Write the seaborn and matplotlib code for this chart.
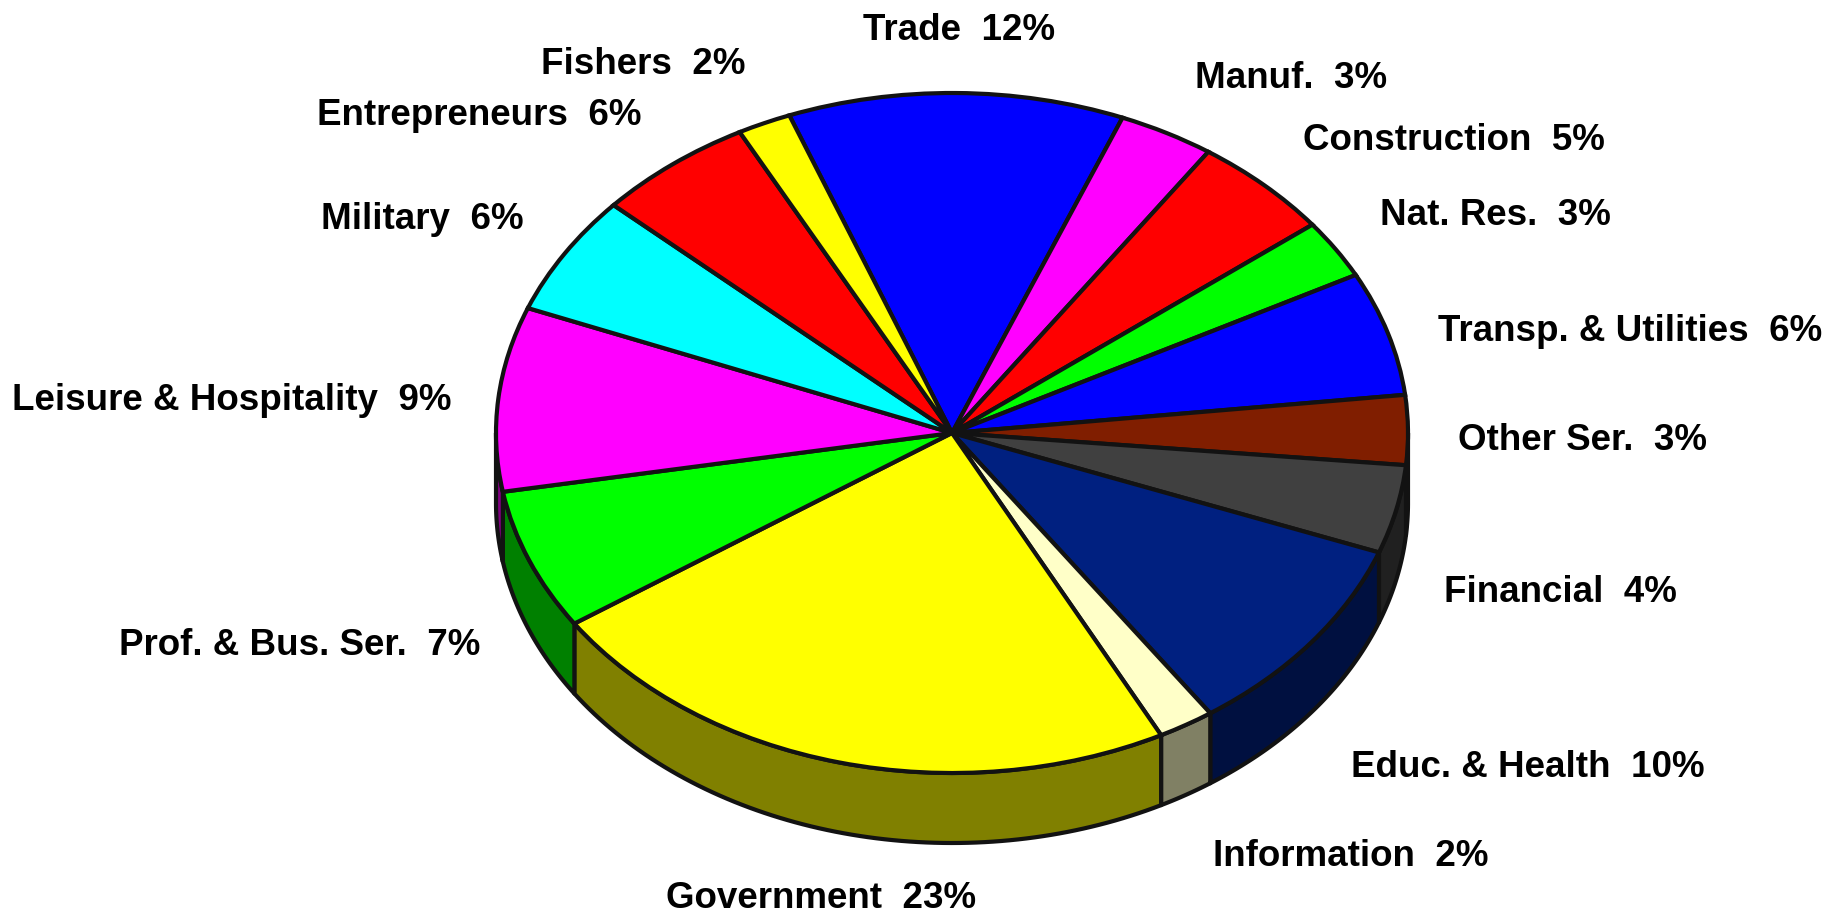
import numpy as np
import matplotlib
matplotlib.use("Agg")
import matplotlib.pyplot as plt
import seaborn as sns
from matplotlib.patches import Polygon
from matplotlib.colors import to_rgb

sns.set_style("white")
plt.rcParams['font.family'] = ['Liberation Sans', 'DejaVu Sans']

# ---- data (clockwise from the top) ----
categories = ["Trade", "Manuf.", "Construction", "Nat. Res.", "Transp. & Utilities",
              "Other Ser.", "Financial", "Educ. & Health", "Information", "Government",
              "Prof. & Bus. Ser.", "Leisure & Hospitality", "Military", "Entrepreneurs",
              "Fishers"]
shares = [11.9, 3.4, 5.0, 2.8, 5.9, 3.3, 4.2, 9.7, 2.0, 23.1, 6.7, 8.75, 5.7, 5.6, 1.9]
shown_pct = [12, 3, 5, 3, 6, 3, 4, 10, 2, 23, 7, 9, 6, 6, 2]
colors = ["#0000FF", "#FF00FF", "#FF0000", "#00FF00", "#0000FF",
          "#801E00", "#404040", "#002080", "#FFFFC8", "#FFFF00",
          "#00FF00", "#FF00FF", "#00FFFF", "#FF0000", "#FFFF00"]

# ---- layout ----
W, H = 1848, 914
CX, CY, RX, RY = 952, 433, 456, 340
DEPTH = 70 / RY
EDGE = "#121212"
LW = 3.0
START = 110.9
# label centres (pixels, cap-centre)
label_pos = [(959, 27), (1291, 75), (1454, 137), (1495, 212), (1630, 328),
             (1582, 437), (1560, 589), (1528, 764), (1351, 853), (821, 895),
             (300, 642), (232, 397), (422, 216), (479, 112), (643, 61)]

fig = plt.figure(figsize=(W / 100, H / 100), dpi=100)
ax = fig.add_axes([0, 0, 1, 1])

wedges, _ = ax.pie(shares, colors=colors, startangle=START, counterclock=False,
                   wedgeprops=dict(edgecolor=EDGE, linewidth=LW, zorder=3))
ax.set_aspect('auto')
ax.set_xlim(-CX / RX, (W - CX) / RX)
ax.set_ylim((CY - H) / RY, CY / RY)
ax.axis('off')

# side wall of the front half
for w, c in zip(wedges, colors):
    t1, t2 = w.theta1 % 360, w.theta2 % 360
    if t2 <= t1:
        t2 += 360
    segs = []
    for base in (0, 360):
        a = max(t1, 180 + base)
        b = min(t2, 360 + base)
        if b > a:
            segs.append((a, b))
    dark = tuple(v * 0.5 for v in to_rgb(c))
    for a, b in segs:
        t = np.radians(np.linspace(a, b, 80))
        top = np.column_stack([np.cos(t), np.sin(t)])
        bot = np.column_stack([np.cos(t[::-1]), np.sin(t[::-1]) - DEPTH])
        poly = Polygon(np.vstack([top, bot]), closed=True, facecolor=dark,
                       edgecolor=EDGE, linewidth=LW, joinstyle='round', zorder=2)
        ax.add_patch(poly)

# labels
cap_half = 13.0
for name, p, (lx, ly) in zip(categories, shown_pct, label_pos):
    fig.text(lx / W, 1 - (ly + cap_half) / H, f"{name}  {p}%", ha='center',
             va='baseline', fontsize=26.5, fontweight='bold', color='black')

fig.savefig("out.png", dpi=100)
